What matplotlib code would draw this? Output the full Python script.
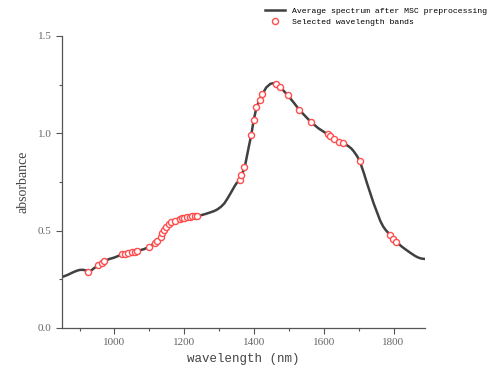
import numpy as np
import matplotlib
matplotlib.use("Agg")
import matplotlib.pyplot as plt
from matplotlib.ticker import MultipleLocator

# average spectrum after MSC
wl = [850, 865, 880, 892, 900, 908, 915, 921, 927, 934, 940, 955, 963, 971,
      985, 1000, 1022, 1045, 1068, 1085, 1098, 1115, 1125, 1137, 1149, 1160,
      1170, 1180, 1200, 1220, 1240, 1250, 1260, 1272, 1285, 1295, 1305, 1315,
      1323, 1331, 1338, 1345, 1351, 1356, 1361, 1368, 1375, 1385, 1392, 1399,
      1407, 1416, 1424, 1435, 1447, 1458, 1466, 1474, 1485, 1497, 1515, 1530,
      1547, 1563, 1585, 1611, 1630, 1654, 1664, 1672, 1680, 1686, 1695, 1703,
      1715, 1724, 1743, 1762, 1770, 1778, 1791, 1808, 1825, 1838, 1850, 1860,
      1868, 1875, 1882, 1888]
absorb = [0.262, 0.272, 0.285, 0.294, 0.298, 0.299, 0.297, 0.293, 0.290,
          0.296, 0.305, 0.324, 0.334, 0.344, 0.354, 0.362, 0.378, 0.388,
          0.397, 0.405, 0.417, 0.435, 0.450, 0.486, 0.520, 0.543, 0.553,
          0.560, 0.567, 0.572, 0.576, 0.580, 0.585, 0.592, 0.600, 0.609,
          0.622, 0.640, 0.662, 0.686, 0.708, 0.730, 0.746, 0.753, 0.762,
          0.800, 0.840, 0.930, 0.990, 1.066, 1.132, 1.170, 1.200, 1.235,
          1.254, 1.258, 1.253, 1.240, 1.218, 1.195, 1.155, 1.120, 1.088,
          1.058, 1.025, 0.995, 0.970, 0.948, 0.941, 0.932, 0.920, 0.907,
          0.884, 0.858, 0.795, 0.743, 0.640, 0.550, 0.522, 0.502, 0.477,
          0.442, 0.416, 0.399, 0.384, 0.372, 0.364, 0.359, 0.356, 0.355]

# selected wavelength bands
sel_wl = [925, 954, 963, 971, 1022, 1031, 1040, 1049, 1058, 1066,
          1098, 1115, 1122, 1132, 1137, 1143, 1149, 1156, 1162, 1173, 1187,
          1194, 1200, 1208, 1216, 1223, 1230, 1237,
          1361, 1364, 1372, 1392, 1399, 1407, 1416, 1424, 1464, 1474, 1497,
          1530, 1563, 1611, 1619, 1630, 1645, 1654, 1703, 1791, 1798, 1808]
sel_abs = [0.290, 0.324, 0.334, 0.344, 0.379, 0.382, 0.385, 0.388, 0.391, 0.394,
           0.417, 0.435, 0.448, 0.469, 0.486, 0.503, 0.520, 0.534, 0.543, 0.550,
           0.560, 0.563, 0.567, 0.569, 0.571, 0.573, 0.575, 0.577,
           0.760, 0.786, 0.827, 0.990, 1.068, 1.134, 1.171, 1.200, 1.253, 1.240,
           1.195, 1.120, 1.058, 0.995, 0.986, 0.969, 0.955, 0.949, 0.859, 0.478,
           0.456, 0.440]

fig = plt.figure(figsize=(4.97, 3.74), dpi=100)
ax = fig.add_axes([0.125, 0.123, 0.73, 0.781])

ax.plot(wl, absorb, color='#404040', lw=1.8, solid_joinstyle='round',
        label='Average spectrum after MSC preprocessing', zorder=2)
ax.plot(sel_wl, sel_abs, 'o', ms=4.4, mfc='white', mec='#ff4d4d', mew=1.0,
        label='Selected wavelength bands', zorder=3)

ax.set_xlim(850, 1890)
ax.set_ylim(0, 1.5)
ax.xaxis.set_major_locator(MultipleLocator(200))
ax.xaxis.set_minor_locator(MultipleLocator(100))
ax.yaxis.set_major_locator(MultipleLocator(0.5))
ax.yaxis.set_minor_locator(MultipleLocator(0.25))

for s in ['top', 'right']:
    ax.spines[s].set_visible(False)
for s in ['left', 'bottom']:
    ax.spines[s].set_color('#555555')
    ax.spines[s].set_linewidth(0.9)

ax.tick_params(which='major', direction='out', length=4, width=0.8,
               colors='#555555', labelsize=8, labelcolor='#666666')
ax.tick_params(which='minor', direction='out', length=2.5, width=0.8,
               colors='#555555')
ax.xaxis.set_major_formatter(plt.FuncFormatter(lambda v, p: f'{v:.0f}'))
ax.yaxis.set_major_formatter(plt.FuncFormatter(lambda v, p: f'{v:.1f}'))
for lab in ax.get_xticklabels() + ax.get_yticklabels():
    lab.set_family('Liberation Serif')

ax.set_xlabel('wavelength (nm)', family='Liberation Mono', fontsize=9,
              color='#444444', labelpad=4)
ax.set_ylabel('absorbance', family='Liberation Serif', fontsize=10,
              color='#444444', labelpad=6)

fig.legend(loc='upper right', bbox_to_anchor=(0.995, 1.0), frameon=False,
           prop={'family': 'Liberation Mono', 'size': 5.9},
           handlelength=2.4, handletextpad=0.9, labelspacing=0.35)

fig.savefig('out.png', dpi=100)
